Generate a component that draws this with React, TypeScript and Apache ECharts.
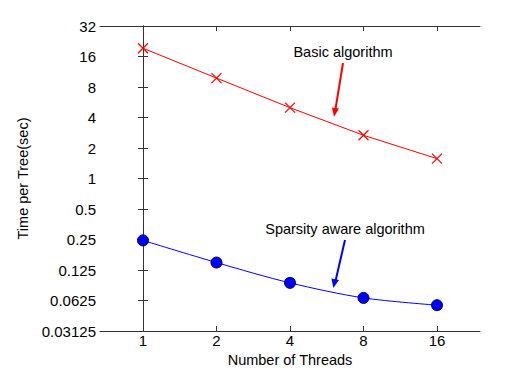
import React, { useEffect, useRef } from "react";
import * as echarts from "echarts";

const threads = [1, 2, 4, 8, 16];
const basicTimes = [19.3, 9.8, 5.0, 2.67, 1.57];
const sparseTimes = [0.245, 0.148, 0.0933, 0.0663, 0.0562];
const xTickValues = [1, 2, 4, 8, 16];
const yMin = 0.03125;
const yMax = 32;
const xMin = 2 / 3;
const xMax = 24;

const FONT = "Liberation Sans, Arial, Helvetica, sans-serif";

export default function App() {
  const ref = useRef<HTMLDivElement>(null);
  useEffect(() => {
    if (!ref.current) return;
    const chart = echarts.init(ref.current, null, { renderer: "svg" });
    const lx = (v: number) => Math.log2(v);
    const fmtY = (v: number) => String(+Number(v).toPrecision(6));
    const fmtX = (v: number) => String(Math.round(Math.pow(2, v)));
    const axisLine = { show: true, lineStyle: { color: "#333", width: 1 } };
    const xTickPos = xTickValues.map(lx);
    const baseX = {
      type: "value",
      min: lx(xMin),
      max: lx(xMax),
      splitLine: { show: false },
      axisLine,
    };
    const baseY = {
      type: "log",
      logBase: 2,
      min: yMin,
      max: yMax,
      interval: 1,
      splitLine: { show: false },
      axisLine,
    };
    chart.setOption({
      animation: false,
      grid: { left: 100, right: 25, top: 26, bottom: 47, containLabel: false },
      xAxis: [
        {
          ...baseX,
          position: "bottom",
          name: "Number of Threads",
          nameLocation: "middle",
          nameGap: 18,
          nameTextStyle: { fontFamily: FONT, fontSize: 14.5, color: "#000" },
          axisTick: { show: true, inside: true, length: 5, customValues: xTickPos, lineStyle: { color: "#333" } },
          axisLabel: {
            show: true,
            customValues: xTickPos,
            formatter: fmtX,
            fontFamily: FONT,
            fontSize: 15,
            color: "#000",
            margin: 2,
          },
        },
        {
          ...baseX,
          position: "top",
          axisTick: { show: true, inside: true, length: 5, customValues: xTickPos, lineStyle: { color: "#333" } },
          axisLabel: { show: false },
        },
      ],
      yAxis: [
        {
          ...baseY,
          position: "left",
          name: "Time per Tree(sec)",
          nameLocation: "middle",
          nameGap: 56,
          nameTextStyle: { fontFamily: FONT, fontSize: 14.5, color: "#000" },
          axisTick: { show: true, inside: true, length: 5, lineStyle: { color: "#333" } },
          axisLabel: {
            show: true,
            formatter: fmtY,
            fontFamily: FONT,
            fontSize: 15,
            color: "#000",
            margin: 4,
          },
        },
        {
          ...baseY,
          position: "right",
          axisTick: { show: true, inside: true, length: 5, lineStyle: { color: "#333" } },
          axisLabel: { show: false },
        },
      ],
      series: [
        {
          type: "line",
          data: threads.map((t, i) => [lx(t), basicTimes[i]]),
          symbol: "path://M0,0L10,10M10,0L0,10",
          symbolSize: 10,
          lineStyle: { color: "#ff0000", width: 1 },
          itemStyle: { color: "none", borderColor: "#ff0000", borderWidth: 1.2 },
        },
        {
          type: "line",
          data: threads.map((t, i) => [lx(t), sparseTimes[i]]),
          symbol: "circle",
          symbolSize: 11,
          smooth: 0.3,
          lineStyle: { color: "#0000ff", width: 1 },
          itemStyle: { color: "#0000ff", borderColor: "#000066", borderWidth: 1 },
        },
      ],
      graphic: [
        {
          type: "text",
          x: 343,
          y: 52,
          style: { text: "Basic algorithm", fontFamily: FONT, fontSize: 14.5, fill: "#000", align: "center", verticalAlign: "middle" },
        },
        {
          type: "line",
          shape: { x1: 343, y1: 63, x2: 335.5, y2: 109 },
          style: { stroke: "#ff0000", lineWidth: 2 },
        },
        {
          type: "polygon",
          shape: { points: [[334, 117], [339, 108.5], [332, 107.5]] },
          style: { fill: "#ff0000" },
        },
        {
          type: "text",
          x: 345,
          y: 229,
          style: { text: "Sparsity aware algorithm", fontFamily: FONT, fontSize: 14.5, fill: "#000", align: "center", verticalAlign: "middle" },
        },
        {
          type: "line",
          shape: { x1: 345, y1: 240, x2: 335.5, y2: 281 },
          style: { stroke: "#0000ff", lineWidth: 2 },
        },
        {
          type: "polygon",
          shape: { points: [[333.3, 288], [339, 280], [331.5, 278.5]] },
          style: { fill: "#0000ff" },
        },
      ],
    });
    return () => chart.dispose();
  }, []);
  return <div ref={ref} style={{ width: 505, height: 378, position: "absolute", left: 0, top: 0 }} />;
}
